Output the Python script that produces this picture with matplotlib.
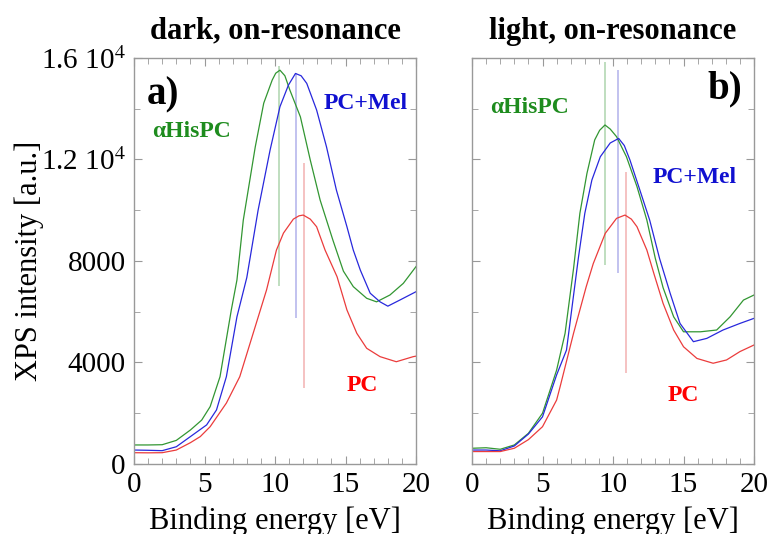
import numpy as np
import matplotlib.pyplot as plt
from matplotlib.ticker import MultipleLocator, FixedLocator

plt.rcParams['font.family'] = ['Liberation Serif', 'DejaVu Serif']
plt.rcParams['mathtext.fontset'] = 'stix'

# dark, on-resonance (panel a)
dark_his_x = [0, 1, 2, 3, 4, 4.8, 5.4, 6.1, 6.9, 7.3, 7.75, 8.6, 9.2, 9.8, 10.05, 10.35, 10.7,
              11.05, 11.8, 12.5, 13.2, 14.1, 14.85, 15.55, 16.5, 17.2, 18.15, 19.1, 20]
dark_his_y = [750, 750, 760, 930, 1340, 1730, 2260, 3440, 6070, 7250, 9610, 12500, 14220,
              15130, 15400, 15520, 15300, 14740, 13680, 11980, 10400, 8830, 7600, 6990, 6530,
              6390, 6660, 7120, 7780]
dark_mel_x = [0, 1, 2, 3, 4, 5.15, 5.85, 6.55, 7.3, 8.0, 8.8, 9.65, 10.35, 10.95, 11.45,
              11.85, 12.25, 12.95, 13.65, 14.35, 15.1, 15.55, 16.05, 16.75, 17.45, 18.0,
              18.85, 20]
dark_mel_y = [550, 540, 525, 680, 1080, 1540, 2130, 3440, 5800, 7350, 10000, 12370, 14080,
              14930, 15390, 15300, 15000, 13950, 12500, 10800, 9350, 8430, 7640, 6730, 6390,
              6220, 6460, 6790]
dark_pc_x = [0, 1, 2, 3, 4, 4.7, 5.4, 6.55, 7.5, 8.45, 9.4, 10.1, 10.6, 11.3, 11.7, 12.0,
             12.5, 12.95, 13.55, 14.4, 15.1, 15.8, 16.5, 17.45, 18.6, 19.8, 20]
dark_pc_y = [445, 440, 445, 550, 840, 1080, 1470, 2400, 3440, 5150, 6860, 8430, 9100, 9650,
             9780, 9810, 9650, 9350, 8430, 7380, 6070, 5150, 4560, 4230, 4030, 4230, 4250]

# light, on-resonance (panel b)
light_his_x = [0, 1, 2, 3, 4, 5, 6, 6.6, 7.2, 7.65, 8.15, 8.7, 9.05, 9.43, 9.8, 10.25, 10.95,
               11.7, 12.4, 13.0, 13.55, 14.3, 15.0, 16.2, 17.35, 18.3, 19.25, 20]
light_his_y = [620, 640, 580, 750, 1210, 2000, 3700, 5150, 7700, 9880, 11450, 12770, 13150,
               13360, 13200, 12900, 12110, 10930, 9610, 8100, 6950, 5800, 5210, 5210, 5280,
               5800, 6460, 6660]
light_mel_x = [0, 1, 2, 3, 4, 5, 6, 6.7, 7.55, 8.0, 8.5, 9.1, 9.8, 10.4, 10.8, 11.2, 11.9,
               12.6, 13.3, 14.05, 14.75, 15.7, 16.65, 17.8, 19.0, 20]
light_mel_y = [550, 550, 520, 710, 1180, 1860, 3510, 4490, 8150, 9880, 11190, 12110, 12650,
               12830, 12550, 11980, 10800, 9610, 8100, 6730, 5540, 4820, 4950, 5280, 5540, 5740]
light_pc_x = [0, 1, 2, 3, 4, 5, 6, 6.25, 7.2, 8.1, 8.6, 9.45, 10.25, 10.85, 11.3, 11.7, 12.4,
              12.9, 13.55, 14.3, 15.0, 15.95, 17.1, 18.05, 19.0, 20]
light_pc_y = [490, 490, 490, 620, 960, 1470, 2520, 3050, 5150, 6990, 7900, 9090, 9680, 9810,
              9650, 9350, 8430, 7500, 6330, 5280, 4620, 4160, 3970, 4100, 4430, 4690]

# peak markers: (x, ymin, ymax)
dark_marks = {'his': (10.3, 7000, 15700), 'mel': (11.5, 5740, 15400), 'pc': (12.05, 2980, 11850)}
light_marks = {'his': (9.43, 7840, 15840), 'mel': (10.38, 7540, 15520), 'pc': (10.92, 3570, 11520)}

# label positions (x, y) in data units
dark_text = {'his': (4.1, 13120), 'mel': (16.45, 14220), 'pc': (16.2, 3110), 'tag': (2.06, 14540)}
light_text = {'his': (4.05, 14030), 'mel': (15.8, 11300), 'pc': (14.95, 2680), 'tag': (17.94, 14800)}

line_col = {'his': '#329632', 'mel': '#2828dc', 'pc': '#eb3c3c'}
mark_col = {'his': '#b4d8b4', 'mel': '#b8b8ec', 'pc': '#f4b8b8'}
text_col = {'his': '#1e8c1e', 'mel': '#1010d0', 'pc': '#ff0000'}
names = {'his': '\u03b1HisPC', 'mel': 'PC+Mel', 'pc': 'PC'}


def draw_panel(ax, curves, marks, texts, tag, title):
    for key in ['his', 'mel', 'pc']:
        x, ymin, ymax = marks[key]
        ax.vlines(x, ymin, ymax, color=mark_col[key], lw=1.2, zorder=1)
    for key, (xs, ys) in curves.items():
        ax.plot(xs, ys, color=line_col[key], lw=0.9, zorder=2)
    for key in ['his', 'mel', 'pc']:
        tx, ty = texts[key]
        ax.text(tx, ty, names[key], color=text_col[key], fontsize=17, fontweight='bold',
                ha='center', va='center')
    tx, ty = texts['tag']
    ax.text(tx, ty, tag, fontsize=28, fontweight='bold', ha='center', va='center')
    ax.set_xlim(0, 20)
    ax.set_ylim(0, 16000)
    ax.xaxis.set_major_locator(MultipleLocator(5))
    ax.xaxis.set_minor_locator(MultipleLocator(1))
    ax.yaxis.set_major_locator(FixedLocator([0, 4000, 8000, 12000, 16000]))
    ax.yaxis.set_minor_locator(MultipleLocator(2000))
    ax.tick_params(which='both', direction='in', top=True, right=True, color='#999999',
                   labelsize=21, pad=6)
    ax.tick_params(which='major', length=6)
    ax.tick_params(which='minor', length=4)
    for sp in ax.spines.values():
        sp.set_color('#999999')
        sp.set_linewidth(1.0)
    ax.set_xlabel('Binding energy [eV]', fontsize=22, labelpad=6)
    ax.set_title(title, fontsize=22, fontweight='bold', pad=14)


fig = plt.figure(figsize=(7.71, 5.34), dpi=100)
ax1 = fig.add_axes([0.1738, 0.1311, 0.3658, 0.7603])
ax2 = fig.add_axes([0.6122, 0.1311, 0.3658, 0.7603])

draw_panel(ax1, {'his': (dark_his_x, dark_his_y), 'mel': (dark_mel_x, dark_mel_y),
                 'pc': (dark_pc_x, dark_pc_y)}, dark_marks, dark_text, 'a)',
           'dark, on-resonance')
draw_panel(ax2, {'his': (light_his_x, light_his_y), 'mel': (light_mel_x, light_mel_y),
                 'pc': (light_pc_x, light_pc_y)}, light_marks, light_text, 'b)',
           'light, on-resonance')

ax1.set_yticklabels(['0', '4000', '8000', r'1.2 10$^4$', r'1.6 10$^4$'])
ax2.set_yticklabels([])
ax1.set_ylabel('XPS intensity [a.u.]', fontsize=22, labelpad=-2)

fig.savefig('out.png', dpi=100)
